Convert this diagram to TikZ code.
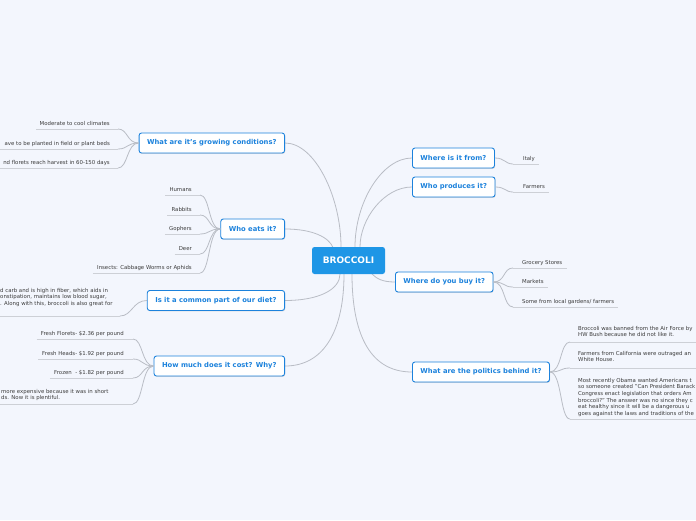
\documentclass[tikz,border=0pt]{standalone}
\usepackage{fontspec}
\setmainfont{DejaVu Sans}
\usetikzlibrary{shadows,calc}
\definecolor{bgc}{HTML}{F3F6FD}
\definecolor{tblue}{HTML}{1C82DC}
\definecolor{cblue}{HTML}{1E96E6}
\definecolor{lgray}{HTML}{B9BDC5}
\definecolor{ulgray}{HTML}{CDD0D6}
\definecolor{tgray}{HTML}{3C3C3C}
\pgfdeclarelayer{back}
\pgfsetlayers{back,main}
\begin{document}
\begin{tikzpicture}[x=1pt,y=-1pt,
 topic/.style={draw=tblue, line width=0.9pt, fill=white, rounded corners=2.5pt, text=tblue,
   font=\bfseries\fontsize{6.8}{7.5}\selectfont, minimum height=20pt, inner xsep=8pt,
   drop shadow={shadow xshift=0.6pt, shadow yshift=-0.9pt, opacity=0.25, fill=gray}},
 leaf/.style={text=tgray, font=\fontsize{5.4}{6.6}\selectfont, inner sep=0pt},
 leafm/.style={leaf, align=left},
 link/.style={draw=lgray, line width=0.8pt},
 uline/.style={draw=ulgray, line width=0.7pt}]
\useasboundingbox (0,0) rectangle (696,520);
\begin{pgfonlayer}{back}
\fill[bgc] (0,0) rectangle (696,520);
\end{pgfonlayer}

% central node
\node[fill=cblue, rounded corners=2.5pt, text=white, font=\bfseries\fontsize{9}{10}\selectfont,
  minimum width=73pt, minimum height=27pt, inner sep=0pt] (c) at (348.5,260.5) {BROCCOLI};

% topics
\node[topic, anchor=east] (t1) at (285,143) {What are it's growing conditions?};
\node[topic, anchor=east] (t2) at (285,229) {Who eats it?};
\node[topic, anchor=east] (t3) at (285,300.5) {Is it a common part of our diet?};
\node[topic, anchor=east] (t4) at (285,366) {How much does it cost? Why?};
\node[topic, anchor=west] (t5) at (412,158) {Where is it from?};
\node[topic, anchor=west] (t6) at (412,187) {Who produces it?};
\node[topic, anchor=west] (t7) at (395,282) {Where do you buy it?};
\node[topic, anchor=west] (t8) at (412,372) {What are the politics behind it?};

% anchor points on central node
\coordinate (c1) at (341,247);
\coordinate (c2) at (333,247.5);
\coordinate (c3) at (340,274);
\coordinate (c4) at (344,274);
\coordinate (c5) at (355,247);
\coordinate (c6) at (360,247);
\coordinate (c7) at (372,274);
\coordinate (c8) at (352,274);

\begin{pgfonlayer}{back}
\draw[link] (t1.east) .. controls +(30,0) and +(0,-50) .. (c1);
\draw[link] (t2.east) .. controls +(28,0) and +(-4,-10) .. (c2);
\draw[link] (t3.east) .. controls +(35,0) and +(0,15) .. (c3);
\draw[link] (t4.east) .. controls +(40,0) and +(0,55) .. (c4);
\draw[link] (t5.west) .. controls +(-30,0) and +(0,-45) .. (c5);
\draw[link] (t6.west) .. controls +(-28,0) and +(0,-28) .. (c6);
\draw[link] (t7.west) .. controls +(-12,0) and +(5,5) .. (c7);
\draw[link] (t8.west) .. controls +(-45,0) and +(0,55) .. (c8);
\end{pgfonlayer}

% growing conditions leaves
\node[leaf, anchor=base east] (a1) at (110,125) {Moderate to cool climates};
\node[leaf, anchor=base east] (a2) at (110,145) {ave to be planted in field or plant beds};
\node[leaf, anchor=base east] (a3) at (110,164) {nd florets reach harvest in 60-150 days};
\coordinate (a1e) at (118,129);
\coordinate (a2e) at (118,149);
\coordinate (a3e) at (118,168);
\draw[uline] ($(a1.west|-a1e)+(-3,0)$) -- (a1e);
\draw[uline] (0,149) -- (a2e);
\draw[uline] (0,168) -- (a3e);
\foreach \n in {a1,a2,a3}{
  \draw[link] (t1.west) .. controls +(-12,0) and +(10,0) .. (\n e);
}

% who eats it leaves
\node[leaf, anchor=base east] (b1) at (192,191) {Humans};
\node[leaf, anchor=base east] (b2) at (192,211) {Rabbits};
\node[leaf, anchor=base east] (b3) at (192,230) {Gophers};
\node[leaf, anchor=base east] (b4) at (192,250) {Deer};
\node[leaf, anchor=base east] (b5) at (192,269) {Insects: Cabbage Worms or Aphids};
\coordinate (b1e) at (200,195);
\coordinate (b2e) at (200,215);
\coordinate (b3e) at (200,234);
\coordinate (b4e) at (200,254);
\coordinate (b5e) at (200,273);
\foreach \n in {b1,b2,b3,b4,b5}{
  \draw[uline] ($(\n.west|-\n e)+(-4,0)$) -- (\n e);
  \draw[link] (t2.west) .. controls +(-12,0) and +(10,0) .. (\n e);
}

% diet leaf
\node[leafm, anchor=north west] (d1) at (0,288) {d carb and is high in fiber, which aids in\\onstipation, maintains low blood sugar,\\. Along with this, broccoli is also great for};
\coordinate (d1e) at (120,316);
\draw[uline] (0,316) -- (d1e);
\draw[link] (t3.west) .. controls +(-14,0) and +(12,0) .. (d1e);

% cost leaves
\node[leaf, anchor=base east] (e1) at (124,335) {Fresh Florets- \$2.36 per pound};
\node[leaf, anchor=base east] (e2) at (124,355) {Fresh Heads- \$1.92 per pound};
\node[leaf, anchor=base east] (e3) at (124,374) {Frozen \ - \$1.82 per pound};
\coordinate (e1e) at (133,339);
\coordinate (e2e) at (133,359);
\coordinate (e3e) at (133,378);
\foreach \n in {e1,e2,e3}{
  \draw[uline] ($(\n.west|-\n e)+(-4,0)$) -- (\n e);
  \draw[link] (t4.west) .. controls +(-12,0) and +(10,0) .. (\n e);
}
\node[leafm, anchor=north west] (e4) at (1,389) {more expensive because it was in short\\ds. Now it is plentiful.};
\coordinate (e4e) at (133,404);
\draw[uline] (0,404) -- (e4e);
\draw[link] (t4.west) .. controls +(-12,0) and +(10,0) .. (e4e);

% where from / who produces
\node[leaf, anchor=base west] (f1) at (523,160) {Italy};
\coordinate (f1s) at (513,164);
\draw[uline] (f1s) -- ($(f1.east|-f1s)+(4,0)$);
\draw[link] (t5.east) .. controls +(10,0) and +(-8,0) .. (f1s);
\node[leaf, anchor=base west] (g1) at (523,188) {Farmers};
\coordinate (g1s) at (513,192);
\draw[uline] (g1s) -- ($(g1.east|-g1s)+(4,0)$);
\draw[link] (t6.east) .. controls +(10,0) and +(-8,0) .. (g1s);

% where do you buy it
\node[leaf, anchor=base west] (h1) at (522,264) {Grocery Stores};
\node[leaf, anchor=base west] (h2) at (522,283) {Markets};
\node[leaf, anchor=base west] (h3) at (522,303) {Some from local gardens/ farmers};
\coordinate (h1s) at (513,268);
\coordinate (h2s) at (513,287);
\coordinate (h3s) at (513,307);
\foreach \n in {h1,h2,h3}{
  \draw[uline] (\n s) -- ($(\n.east|-\n s)+(4,0)$);
  \draw[link] (t7.east) .. controls +(12,0) and +(-10,0) .. (\n s);
}

% politics
\node[leafm, anchor=north west] (p1) at (578,326) {Broccoli was banned from the Air Force by\\HW Bush because he did not like it.};
\node[leafm, anchor=north west] (p2) at (578,351) {Farmers from California were outraged an\\White House.};
\node[leafm, anchor=north west] (p3) at (578,378) {Most recently Obama wanted Americans t\\so someone created "Can President Barack\\Congress enact legislation that orders Am\\broccoli?" The answer was no since they c\\eat healthy since it will be a dangerous u\\goes against the laws and traditions of the};
\coordinate (p1s) at (570,342);
\coordinate (p2s) at (570,368);
\coordinate (p3s) at (570,419);
\foreach \n in {p1,p2,p3}{
  \draw[uline] (\n s) -- (700,0|-\n s);
  \draw[link] (t8.east) .. controls +(12,0) and +(-10,0) .. (\n s);
}
\end{tikzpicture}
\end{document}
